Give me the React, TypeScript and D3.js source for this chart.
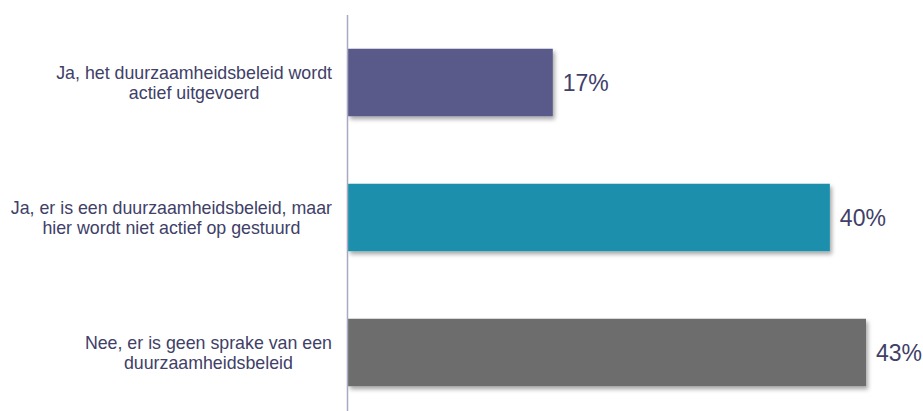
import { useEffect, useRef } from 'react'
import * as d3 from 'd3'

const categories: string[][] = [
  ['Ja, het duurzaamheidsbeleid wordt', 'actief uitgevoerd'],
  ['Ja, er is een duurzaamheidsbeleid, maar', 'hier wordt niet actief op gestuurd'],
  ['Nee, er is geen sprake van een', 'duurzaamheidsbeleid'],
]
const values = [17, 40, 43]
const barColors = ['#5a5a8a', '#1f8fad', '#6d6d6d']

const W = 923
const H = 411

export default function App() {
  const svgRef = useRef<SVGSVGElement>(null)

  useEffect(() => {
    if (!svgRef.current) return
    const svg = d3.select(svgRef.current)
    svg.selectAll('*').remove()

    const x0 = 348
    const x = d3.scaleLinear().domain([0, 43]).range([x0, 866])
    const y = d3
      .scaleBand<number>()
      .domain(values.map((_, i) => i))
      .range([15, 420])
      .paddingInner(0.5)
      .paddingOuter(0.25)

    const defs = svg.append('defs')
    const f = defs
      .append('filter')
      .attr('id', 'shadow')
      .attr('x', '-10%')
      .attr('y', '-20%')
      .attr('width', '130%')
      .attr('height', '150%')
    f.append('feDropShadow')
      .attr('dx', 2)
      .attr('dy', 3)
      .attr('stdDeviation', 2)
      .attr('flood-color', '#000')
      .attr('flood-opacity', 0.35)

    svg
      .selectAll('.bar')
      .data(values)
      .enter()
      .append('rect')
      .attr('x', x0)
      .attr('y', (_, i) => y(i) ?? 0)
      .attr('width', (d) => x(d) - x0)
      .attr('height', y.bandwidth())
      .attr('fill', (_, i) => barColors[i])
      .attr('filter', 'url(#shadow)')

    svg
      .append('line')
      .attr('x1', x0 - 0.5)
      .attr('x2', x0 - 0.5)
      .attr('y1', 15)
      .attr('y2', H)
      .attr('stroke', '#a9a9c2')
      .attr('stroke-width', 1.5)

    svg
      .selectAll('.val')
      .data(values)
      .enter()
      .append('text')
      .attr('x', (d) => x(d) + 10)
      .attr('y', (_, i) => (y(i) ?? 0) + y.bandwidth() / 2 + 8.5)
      .attr('fill', '#404068')
      .attr('font-family', 'Liberation Sans, Arial, sans-serif')
      .attr('font-size', '23px')
      .text((d) => `${d}%`)

    categories.forEach((lines, i) => {
      const cy = (y(i) ?? 0) + y.bandwidth() / 2
      const g = svg.append('g')
      const texts = lines.map((line, j) =>
        g
          .append('text')
          .attr('y', cy - 3.5 + j * 19.5)
          .attr('text-anchor', 'middle')
          .attr('fill', '#404068')
          .attr('font-family', 'Liberation Sans, Arial, sans-serif')
          .attr('font-size', '17.8px')
          .text(line)
      )
      const maxW = d3.max(texts, (t) => (t.node() as SVGTextElement).getComputedTextLength()) ?? 0
      texts.forEach((t) => t.attr('x', 332 - maxW / 2))
    })
  }, [])

  return (
    <svg
      ref={svgRef}
      width={W}
      height={H}
      style={{ display: 'block', position: 'absolute', left: 0, top: 0, background: '#fff' }}
    />
  )
}
